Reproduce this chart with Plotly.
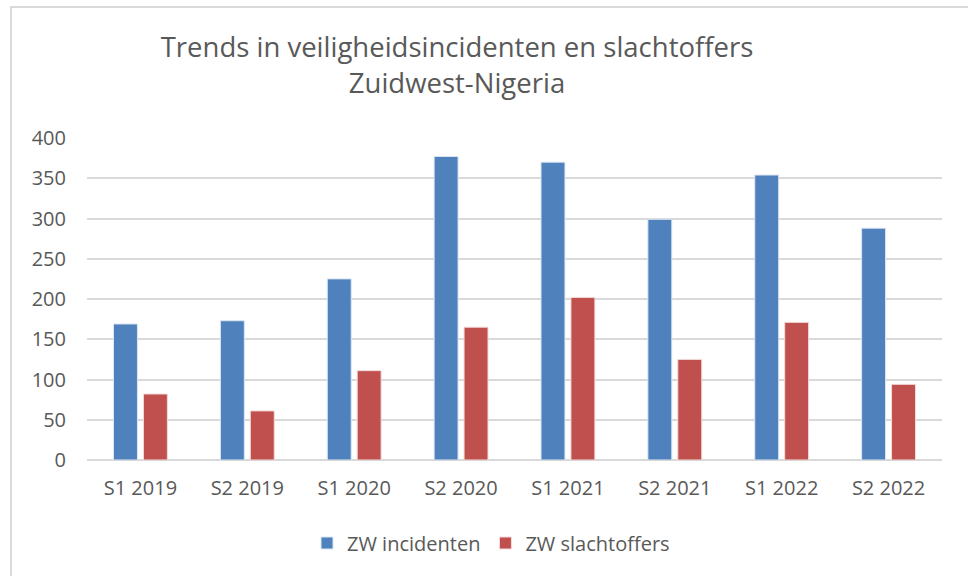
import plotly.graph_objects as go

categories = ["S1 2019", "S2 2019", "S1 2020", "S2 2020", "S1 2021", "S2 2021", "S1 2022", "S2 2022"]
incidenten = [169, 173, 225, 377, 370, 299, 354, 288]
slachtoffers = [82, 61, 111, 165, 202, 125, 171, 94]
y_ticks = [0, 50, 100, 150, 200, 250, 300, 350, 400]

W, H = 968, 576
L, R, T, B = 87, 26, 138, 116
pw, ph = W - L - R, H - T - B

FONT = "Open Sans"
GREY = "#595959"

fig = go.Figure()
fig.add_trace(go.Bar(name="ZW incidenten", x=categories, y=incidenten,
                     marker=dict(color="#4F81BD", line=dict(color="#DCE6F2", width=1))))
fig.add_trace(go.Bar(name="ZW slachtoffers", x=categories, y=slachtoffers,
                     marker=dict(color="#C0504D", line=dict(color="#F2DCDB", width=1))))

def px_x(p):
    return (p - L) / pw

def px_y(p):
    return (H - B - p) / ph

fig.update_layout(
    width=W, height=H,
    margin=dict(l=L, r=R, t=T, b=B),
    paper_bgcolor="white", plot_bgcolor="white",
    barmode="group", bargap=0.44, bargroupgap=0.2,
    font=dict(family=FONT, color=GREY, size=20),
    title=dict(text="Trends in veiligheidsincidenten en slachtoffers<br>Zuidwest-Nigeria",
               x=457 / W, xref="container", xanchor="center",
               y=1 - 57 / H, yref="container", yanchor="top",
               font=dict(family=FONT, size=27.5, color=GREY)),
    xaxis=dict(showgrid=False, showline=False, ticks="", tickfont=dict(size=20, color=GREY),
               ticklabelstandoff=14),
    yaxis=dict(range=[0, 400], tickvals=y_ticks, showgrid=True, gridcolor="#D9D9D9", gridwidth=1.5,
               zeroline=True, zerolinecolor="#D9D9D9", zerolinewidth=1.5,
               tickfont=dict(size=20, color=GREY), ticklabelstandoff=20),
    legend=dict(orientation="h", xref="container", x=491 / W, xanchor="center",
                yref="container", y=1 - 543 / H, yanchor="middle",
                font=dict(size=20, color=GREY), itemwidth=30, traceorder="normal"),
    shapes=[dict(type="rect", xref="paper", yref="paper",
                 x0=px_x(11), x1=px_x(990), y0=px_y(600), y1=px_y(7),
                 line=dict(color="#D9D9D9", width=2), layer="below")],
)

fig.write_html("out.html", config={"displayModeBar": False},
               post_script="document.body.style.margin='0px';")
